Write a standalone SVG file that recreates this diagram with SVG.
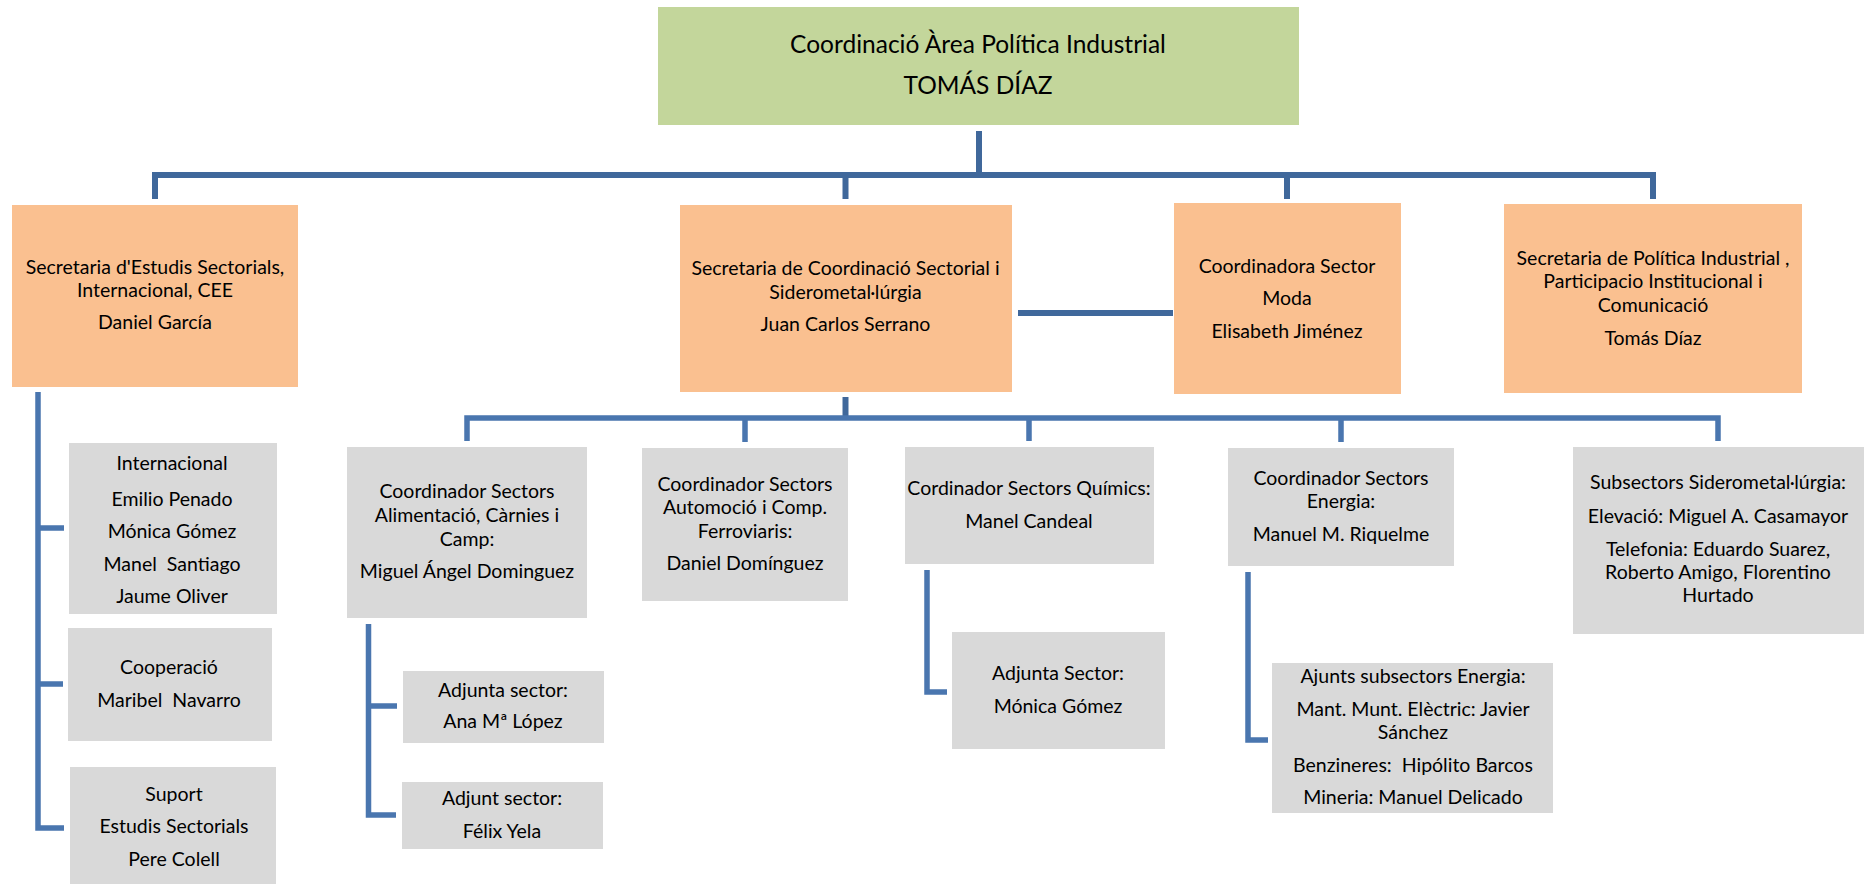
<svg xmlns="http://www.w3.org/2000/svg" width="1867" height="884" viewBox="0 0 1867 884">
<style>
text{font-family:Lato,"Liberation Sans",sans-serif;fill:#000;text-anchor:middle;font-size:19.5px}
.t{font-size:24.5px}
.g{fill:#c3d69b}.o{fill:#fac090}.s{fill:#d9d9d9}
.c1{stroke:#40689b;stroke-width:6;fill:none}
.c2{stroke:#4a76af;stroke-width:5.5;fill:none}
</style>
<rect width="1867" height="884" fill="#fff"/>
<g id="connectors">
<path class="c1" d="M979 131V175M155 199V175H1653V199M845.5 175V199M1287 175V199"/>
<path class="c1" d="M1018 313H1173"/>
<path class="c1" d="M845.5 397V418"/>
<path class="c2" d="M467 441V418H1718V441M745 418V442M1029 418V441M1341 418V442"/>
<path class="c2" d="M38 392V828H64M38 528H64M38 684H63"/>
<path class="c2" d="M368.5 624V815H396M368.5 706H397"/>
<path class="c2" d="M927 570V692H947"/>
<path class="c2" d="M1248 572V740H1268"/>
</g>
<g id="n-top"><rect class="g" x="658" y="7" width="641" height="118"/>
<text class="t" x="978" y="53">Coordinació Àrea Política Industrial</text>
<text class="t" x="978" y="94">TOMÁS DÍAZ</text></g>
<g id="n-estudis"><rect class="o" x="12" y="205" width="286" height="182"/>
<text x="155" y="274">Secretaria d'Estudis Sectorials,</text>
<text x="155" y="297">Internacional, CEE</text>
<text x="155" y="329">Daniel García</text></g>
<g id="n-coord"><rect class="o" x="680" y="205" width="332" height="187"/>
<text x="845.5" y="275">Secretaria de Coordinació Sectorial i</text>
<text x="845.5" y="299">Siderometal·lúrgia</text>
<text x="845.5" y="331">Juan Carlos Serrano</text></g>
<g id="n-moda"><rect class="o" x="1174" y="203" width="227" height="191"/>
<text x="1287" y="273">Coordinadora Sector</text>
<text x="1287" y="305">Moda</text>
<text x="1287" y="338">Elisabeth Jiménez</text></g>
<g id="n-politica"><rect class="o" x="1504" y="204" width="298" height="189"/>
<text x="1653" y="265">Secretaria de Política Industrial ,</text>
<text x="1653" y="288">Participacio Institucional i</text>
<text x="1653" y="312">Comunicació</text>
<text x="1653" y="345">Tomás Díaz</text></g>
<g id="n-internacional"><rect class="s" x="69" y="443" width="208" height="171"/>
<text x="172" y="470">Internacional</text>
<text x="172" y="506">Emilio Penado</text>
<text x="172" y="538">Mónica Gómez</text>
<text x="172" y="571" xml:space="preserve">Manel  Santiago</text>
<text x="172" y="603">Jaume Oliver</text></g>
<g id="n-cooperacio"><rect class="s" x="68" y="628" width="204" height="113"/>
<text x="169" y="674">Cooperació</text>
<text x="169" y="707" xml:space="preserve">Maribel  Navarro</text></g>
<g id="n-suport"><rect class="s" x="70" y="767" width="206" height="120"/>
<text x="174" y="801">Suport</text>
<text x="174" y="833">Estudis Sectorials</text>
<text x="174" y="866">Pere Colell</text></g>
<g id="n-alimentacio"><rect class="s" x="347" y="447" width="240" height="171"/>
<text x="467" y="498">Coordinador Sectors</text>
<text x="467" y="522">Alimentació, Càrnies i</text>
<text x="467" y="546">Camp:</text>
<text x="467" y="578">Miguel Ángel Dominguez</text></g>
<g id="n-automocio"><rect class="s" x="642" y="448" width="206" height="153"/>
<text x="745" y="491">Coordinador Sectors</text>
<text x="745" y="514">Automoció i Comp.</text>
<text x="745" y="538">Ferroviaris:</text>
<text x="745" y="570">Daniel Domínguez</text></g>
<g id="n-quimics"><rect class="s" x="905" y="447" width="249" height="117"/>
<text x="1029" y="495">Cordinador Sectors Químics:</text>
<text x="1029" y="528">Manel Candeal</text></g>
<g id="n-energia"><rect class="s" x="1228" y="448" width="226" height="118"/>
<text x="1341" y="485">Coordinador Sectors</text>
<text x="1341" y="508">Energia:</text>
<text x="1341" y="541">Manuel M. Riquelme</text></g>
<g id="n-sidero"><rect class="s" x="1573" y="447" width="291" height="187"/>
<text x="1718" y="489">Subsectors Siderometal·lúrgia:</text>
<text x="1718" y="523">Elevació: Miguel A. Casamayor</text>
<text x="1718" y="556">Telefonia: Eduardo Suarez,</text>
<text x="1718" y="579">Roberto Amigo, Florentino</text>
<text x="1718" y="602">Hurtado</text></g>
<g id="n-adjunta-alim"><rect class="s" x="403" y="671" width="201" height="72"/>
<text x="503" y="697">Adjunta sector:</text>
<text x="503" y="728">Ana Mª López</text></g>
<g id="n-adjunt-alim"><rect class="s" x="402" y="782" width="201" height="67"/>
<text x="502" y="805">Adjunt sector:</text>
<text x="502" y="838">Félix Yela</text></g>
<g id="n-adjunta-quim"><rect class="s" x="952" y="632" width="213" height="117"/>
<text x="1058" y="680">Adjunta Sector:</text>
<text x="1058" y="713">Mónica Gómez</text></g>
<g id="n-ajunts-energia"><rect class="s" x="1272" y="663" width="281" height="150"/>
<text x="1413" y="683">Ajunts subsectors Energia:</text>
<text x="1413" y="716">Mant. Munt. Elèctric: Javier</text>
<text x="1413" y="739">Sánchez</text>
<text x="1413" y="772" xml:space="preserve">Benzineres:  Hipólito Barcos</text>
<text x="1413" y="804">Mineria: Manuel Delicado</text></g>
</svg>
